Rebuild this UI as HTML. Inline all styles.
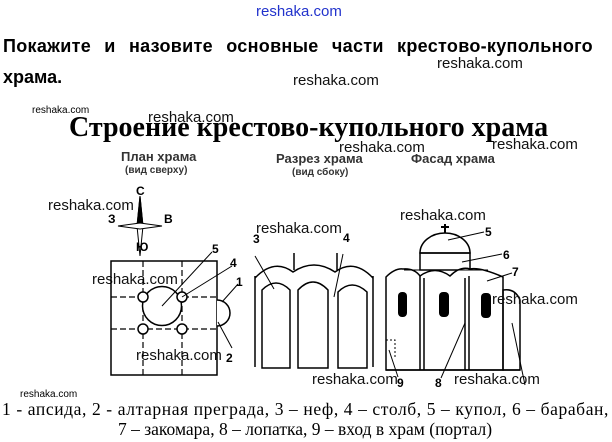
<!DOCTYPE html>
<html><head><meta charset="utf-8"><style>
body{margin:0;background:#fff;width:612px;height:442px;overflow:hidden;position:relative;font-family:"Liberation Sans",sans-serif}
.t{position:absolute;white-space:nowrap;line-height:1}
.w{font-size:15px;color:#111}
</style></head><body>
<div class="t" style="left:256px;top:4px;font-size:15px;color:#2233cc">reshaka.com</div>
<div class="t" style="left:3px;top:37px;font-size:18px;font-weight:bold;word-spacing:8px;letter-spacing:0.3px">Покажите и назовите основные части крестово-купольного</div>
<div class="t" style="left:3px;top:68px;font-size:18px;font-weight:bold">храма.</div>
<div class="t w" style="left:437px;top:56px">reshaka.com</div>
<div class="t w" style="left:293px;top:73px">reshaka.com</div>
<div class="t" style="left:32px;top:106px;font-size:10px">reshaka.com</div>
<div class="t w" style="left:148px;top:110px">reshaka.com</div>
<div class="t" style="left:69px;top:114px;font-family:'Liberation Serif',serif;font-weight:bold;font-size:28px">Строение крестово-купольного храма</div>
<div class="t w" style="left:339px;top:140px">reshaka.com</div>
<div class="t w" style="left:492px;top:137px">reshaka.com</div>
<div class="t" style="left:121px;top:150px;font-size:13px;font-weight:bold;color:#333">План храма</div>
<div class="t" style="left:125px;top:166px;font-size:10px;font-weight:bold;color:#333">(вид сверху)</div>
<div class="t" style="left:276px;top:152px;font-size:13px;font-weight:bold;color:#333">Разрез храма</div>
<div class="t" style="left:292px;top:168px;font-size:10px;font-weight:bold;color:#333">(вид сбоку)</div>
<div class="t" style="left:411px;top:152px;font-size:13px;font-weight:bold;color:#333">Фасад храма</div>
<div class="t w" style="left:48px;top:198px">reshaka.com</div>
<div class="t w" style="left:256px;top:221px">reshaka.com</div>
<div class="t w" style="left:400px;top:208px">reshaka.com</div>
<div class="t w" style="left:92px;top:272px">reshaka.com</div>
<div class="t w" style="left:136px;top:348px">reshaka.com</div>
<div class="t w" style="left:312px;top:372px">reshaka.com</div>
<div class="t w" style="left:454px;top:372px">reshaka.com</div>
<div class="t" style="left:20px;top:390px;font-size:10px">reshaka.com</div>
<svg style="position:absolute;left:0;top:0" width="612" height="442" font-family="Liberation Sans" font-weight="bold" font-size="12">
<g stroke="#000" fill="none" stroke-width="1.5">
<polygon points="140,196 143,226 140,256 137,226" stroke-width="1" fill="#fff"/>
<polygon points="140,196 143,226 137,226" fill="#000" stroke-width="1"/>
<polygon points="118,226 140,223 162,226 140,229" stroke-width="1" fill="#fff"/>
<rect x="111" y="261" width="106" height="114"/>
<g stroke-dasharray="6,3" stroke-width="1.2">
<line x1="111" y1="297" x2="217" y2="297"/><line x1="111" y1="329" x2="217" y2="329"/>
<line x1="143" y1="261" x2="143" y2="375"/><line x1="182" y1="261" x2="182" y2="375"/>
</g>
<circle cx="162" cy="306" r="19.5" fill="#fff"/>
<circle cx="143" cy="297" r="5" fill="#fff"/><circle cx="182" cy="297" r="5" fill="#fff"/>
<circle cx="143" cy="329" r="5" fill="#fff"/><circle cx="182" cy="329" r="5" fill="#fff"/>
<path d="M217,300 A13,13 0 0 1 217,326" fill="#fff"/>
<g stroke-width="1"><line x1="162" y1="306" x2="212" y2="252"/><line x1="182" y1="297" x2="232" y2="266"/><line x1="222" y1="302" x2="238" y2="284"/><line x1="218" y1="322" x2="232" y2="348"/></g>
<line x1="255" y1="276" x2="255" y2="367"/><line x1="373" y1="276" x2="373" y2="367"/>
<path d="M255,278 Q274,258 293,272 Q314,258 335,272 Q354,258 373,278"/>
<line x1="294" y1="253" x2="294" y2="270"/><line x1="337" y1="253" x2="337" y2="270"/>
<path d="M262,368 V290 Q276,276 290,290 V368 Z"/>
<path d="M298,368 V290 Q313,274 328,290 V368 Z"/>
<path d="M338,368 V292 Q352,278 367,292 V368 Z"/>
<g stroke-width="1"><line x1="255" y1="256" x2="274" y2="289"/><line x1="343" y1="254" x2="334" y2="297"/></g>
<path d="M420,253 A25,20 0 0 1 470,253 Z" fill="#fff"/>
<rect x="420" y="253" width="50" height="17"/>
<line x1="445" y1="224" x2="445" y2="233" stroke-width="2"/><line x1="441" y1="227" x2="449" y2="227" stroke-width="2"/>
<path d="M386,370 V277 Q395,268 403,269 Q414,268 420,276 Q435,265 450,276 Q460,266 470,269 Q480,267 503,277 V370 Z" fill="#fff"/>
<path d="M404,270 H488" stroke-width="1"/>
<line x1="420" y1="276" x2="420" y2="370"/><line x1="424" y1="278" x2="424" y2="370"/>
<line x1="465" y1="278" x2="465" y2="370"/><line x1="469" y1="276" x2="469" y2="370"/>
<path d="M503,370 V290 Q515,288 520,300 V370 Z"/>
<line x1="386" y1="370" x2="520" y2="370"/>
<path d="M386,340 H395 V357" stroke-dasharray="2,2" stroke-width="1"/>
<g stroke-width="1"><line x1="448" y1="240" x2="484" y2="232"/><line x1="462" y1="262" x2="502" y2="254"/><line x1="487" y1="281" x2="512" y2="273"/><line x1="465" y1="323" x2="441" y2="378"/><line x1="389" y1="350" x2="398" y2="377"/><line x1="512" y1="323" x2="525" y2="385"/></g>
</g>
<g fill="#000">
<rect x="398" y="292" width="9" height="25" rx="4"/><rect x="439" y="292" width="10" height="25" rx="4"/><rect x="481" y="293" width="10" height="25" rx="4"/>
<text x="136" y="195">С</text><text x="108" y="223">З</text><text x="164" y="223">В</text><text x="136" y="251">Ю</text>
<text x="212" y="253">5</text><text x="230" y="267">4</text><text x="236" y="286">1</text><text x="226" y="362">2</text>
<text x="253" y="243">3</text><text x="343" y="242">4</text>
<text x="485" y="236">5</text><text x="503" y="259">6</text><text x="512" y="276">7</text>
<text x="397" y="387">9</text><text x="435" y="387">8</text>
</g>
</svg>
<div class="t w" style="left:492px;top:292px">reshaka.com</div>
<div class="t" style="left:2px;top:401px;font-family:'Liberation Serif',serif;font-size:17.5px;letter-spacing:0.6px">1 - апсида, 2 - алтарная преграда, 3 – неф, 4 – столб, 5 – купол, 6 – барабан,</div>
<div class="t" style="left:118px;top:421px;font-family:'Liberation Serif',serif;font-size:17.5px">7 – закомара, 8 – лопатка, 9 – вход в храм (портал)</div>
</body></html>
